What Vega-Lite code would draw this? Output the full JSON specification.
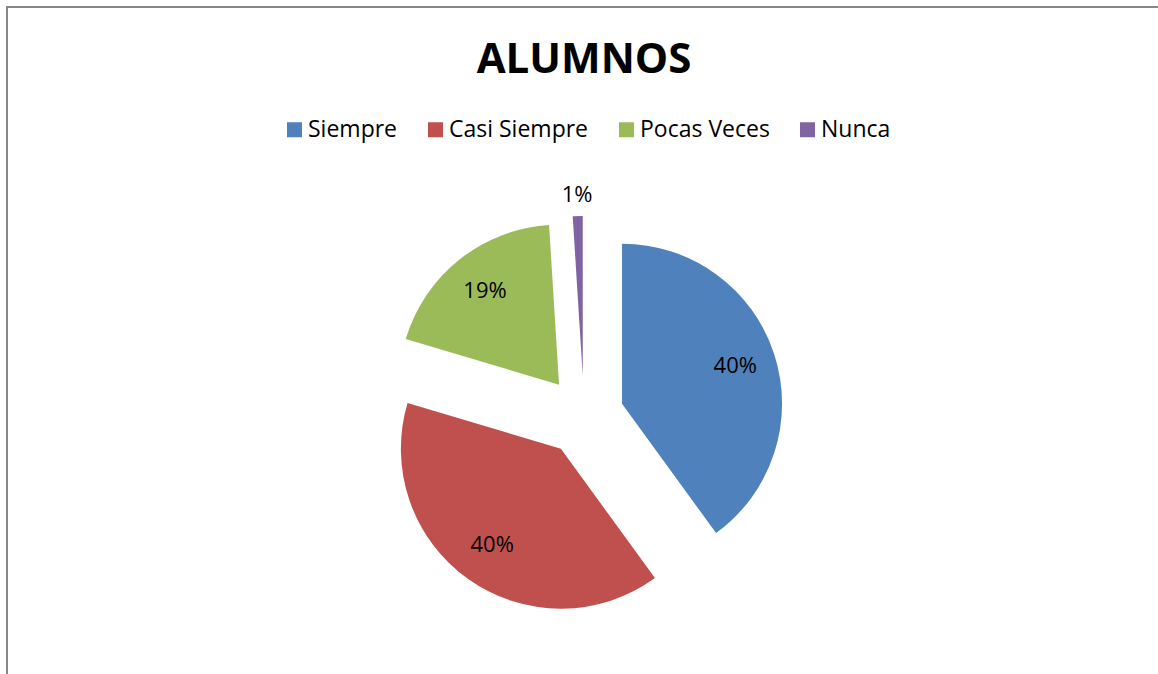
{
  "$schema": "https://vega.github.io/schema/vega-lite/v6.json",
  "autosize": "none",
  "width": 1154,
  "height": 818,
  "padding": {"left": 7, "top": 7, "right": -3, "bottom": -151},
  "background": "white",
  "view": {"stroke": "#878787", "strokeWidth": 2},
  "config": {
    "view": {"stroke": "#878787", "strokeWidth": 2},
    "font": "Open Sans"
  },
  "title": {
    "text": "ALUMNOS",
    "font": "Open Sans",
    "fontSize": 42,
    "fontWeight": "bold",
    "color": "black",
    "anchor": "middle",
    "frame": "group",
    "baseline": "alphabetic",
    "offset": -108
  },
  "data": {
    "values": [
      {"categoria": "Siempre", "valor": 0.40, "orden": 1},
      {"categoria": "Casi Siempre", "valor": 0.396, "orden": 2},
      {"categoria": "Pocas Veces", "valor": 0.194, "orden": 3},
      {"categoria": "Nunca", "valor": 0.01, "orden": 4}
    ]
  },
  "encoding": {
    "theta": {"field": "valor", "type": "quantitative", "stack": true},
    "order": {"field": "orden", "type": "quantitative"}
  },
  "layer": [
    {
      "mark": {
        "type": "arc",
        "radius": 160,
        "xOffset": {"expr": "40*sin(scale('theta', (datum.valor_start + datum.valor_end)/2))"},
        "yOffset": {"expr": "-40*cos(scale('theta', (datum.valor_start + datum.valor_end)/2))"}
      },
      "encoding": {
        "color": {
          "field": "categoria",
          "type": "nominal",
          "scale": {
            "domain": ["Siempre", "Casi Siempre", "Pocas Veces", "Nunca"],
            "range": ["#4F81BD", "#C0504D", "#9BBB59", "#8064A2"]
          },
          "legend": {
            "orient": "none",
            "legendX": 276,
            "legendY": 111,
            "direction": "horizontal",
            "title": null,
            "symbolType": "square",
            "symbolSize": 225,
            "symbolStrokeWidth": 0,
            "symbolOpacity": 1,
            "labelFont": "Open Sans",
            "labelFontSize": 23,
            "labelColor": "black",
            "labelOffset": 2,
            "labelLimit": 300,
            "columnPadding": 26
          }
        }
      }
    },
    {
      "mark": {
        "type": "text",
        "radius": {"expr": "datum.valor < 0.05 ? 180 : 119"},
        "font": "Open Sans",
        "fontSize": 22,
        "color": "black",
        "dy": -1,
        "xOffset": {"expr": "40*sin(scale('theta', (datum.valor_start + datum.valor_end)/2))"},
        "yOffset": {"expr": "-40*cos(scale('theta', (datum.valor_start + datum.valor_end)/2))"}
      },
      "encoding": {
        "text": {"field": "valor", "type": "quantitative", "format": ".0%"}
      }
    }
  ]
}
